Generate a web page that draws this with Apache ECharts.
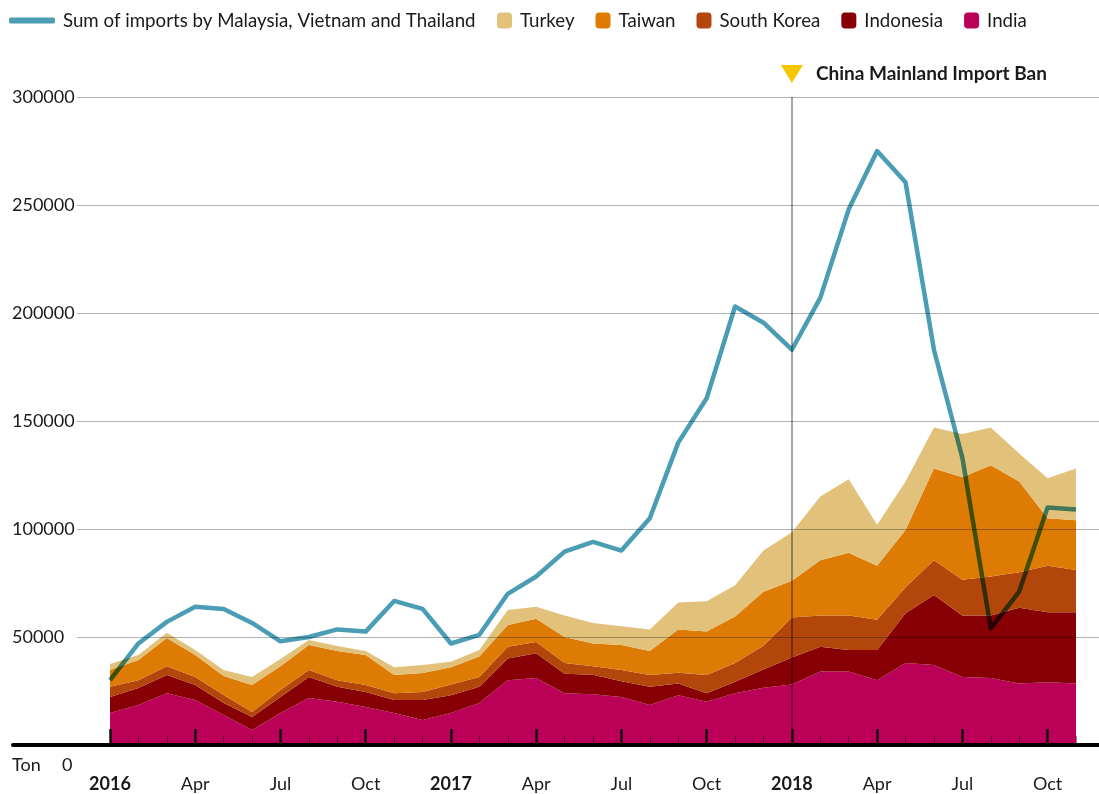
<!DOCTYPE html>
<html>
<head>
<meta charset="utf-8" />
<script src="https://cdn.jsdelivr.net/npm/echarts@6/dist/echarts.min.js"></script>
<style>
  html, body { margin: 0; padding: 0; background: #fff; }
  #main { width: 1099px; height: 794px; }
</style>
</head>
<body>
<div id="main"></div>
<script>
// months Jan 2016 .. Nov 2018
var months = [
  'Jan 2016', 'Feb 2016', 'Mar 2016', 'Apr 2016', 'May 2016', 'Jun 2016',
  'Jul 2016', 'Aug 2016', 'Sep 2016', 'Oct 2016', 'Nov 2016', 'Dec 2016',
  'Jan 2017', 'Feb 2017', 'Mar 2017', 'Apr 2017', 'May 2017', 'Jun 2017',
  'Jul 2017', 'Aug 2017', 'Sep 2017', 'Oct 2017', 'Nov 2017', 'Dec 2017',
  'Jan 2018', 'Feb 2018', 'Mar 2018', 'Apr 2018', 'May 2018', 'Jun 2018',
  'Jul 2018', 'Aug 2018', 'Sep 2018', 'Oct 2018', 'Nov 2018'
];

// tons
var sumMVT = [30000, 47000, 57000, 64000, 63000, 56500, 48000, 50000, 53500, 52500, 66700, 63000,
  47000, 51000, 70000, 78000, 89500, 94000, 90000, 105000, 140000, 160500, 203000, 195500,
  183000, 207000, 248000, 275000, 260500, 183000, 133000, 54000, 71000, 110000, 109000];

var india = [14800, 18500, 24000, 20800, 13900, 7000, 14800, 21800, 20000, 17600, 14800, 11600,
  14800, 19500, 30000, 31000, 24000, 23500, 22200, 18500, 23000, 20000, 24000, 26500,
  28000, 34000, 34000, 30000, 38000, 37000, 31500, 31000, 28500, 29000, 28500];

var indonesia = [7400, 7900, 8400, 7000, 5500, 6000, 7400, 9700, 7000, 6900, 6000, 9200,
  8200, 7500, 10000, 11500, 9000, 9000, 7300, 8500, 5500, 4000, 5300, 8500,
  12500, 11500, 10000, 14000, 23000, 32500, 28500, 29000, 35000, 32500, 33000];

var southKorea = [4800, 3600, 4100, 3700, 3700, 2300, 3300, 3200, 3000, 3300, 3200, 3700,
  5000, 4500, 5500, 5200, 5000, 4000, 5200, 5400, 4900, 8400, 8700, 11000,
  18500, 14500, 16000, 14000, 12000, 16000, 16500, 18000, 16500, 21500, 19500];

var taiwan = [7700, 9400, 13000, 10200, 8900, 12500, 11000, 11600, 13500, 13900, 8400, 8800,
  8000, 9500, 10000, 10800, 12000, 10500, 11600, 11100, 20100, 20100, 21500, 25000,
  17000, 25500, 29000, 25000, 26500, 42500, 47500, 51500, 42000, 22000, 23000];

var turkey = [2800, 2300, 2500, 2300, 2700, 3700, 3300, 2300, 2300, 1800, 3600, 3700,
  2500, 3000, 7000, 5500, 10000, 9500, 8700, 10000, 12500, 14000, 14500, 19000,
  22500, 29500, 34000, 19000, 22500, 19000, 20000, 17500, 13000, 18500, 24000];

var lineName = 'Sum of imports by Malaysia, Vietnam and Thailand';
var banMonth = 'Jan 2018';

var font = 'Lato';
var ink = '#1a1a1a';

var chart = echarts.init(document.getElementById('main'));

function area(name, data, color, extra) {
  var s = {
    name: name,
    type: 'line',
    xAxisIndex: 0,
    yAxisIndex: 0,
    stack: 'imports',
    data: data,
    symbol: 'none',
    lineStyle: { width: 0 },
    itemStyle: { color: color },
    areaStyle: { color: color, opacity: 1 },
    z: 2
  };
  for (var k in extra) s[k] = extra[k];
  return s;
}

var option = {
  animation: false,
  textStyle: { fontFamily: font, color: ink },
  legend: [{
    left: 9, top: 11, padding: 0,
    itemWidth: 46, itemHeight: 6, icon: 'roundRect',
    data: [lineName],
    textStyle: { fontSize: 18.7, color: ink, fontFamily: font, padding: [0, 0, 0, 3] }
  }, {
    left: 497, top: 11, padding: 0,
    itemWidth: 15, itemHeight: 16, icon: 'roundRect', itemGap: 21,
    data: ['Turkey', 'Taiwan', 'South Korea', 'Indonesia', 'India'],
    textStyle: { fontSize: 18.7, color: ink, fontFamily: font, padding: [0, 0, 0, 3] }
  }],
  grid: [
    { left: 110, right: 23, top: 97, bottom: 49 },   // data
    { left: 77, right: 0, top: 97, bottom: 49 },     // gridlines + y labels
    { left: 13, right: 0, top: 97, bottom: 49 }      // baseline
  ],
  xAxis: [{
    type: 'category', gridIndex: 0, position: 'bottom', data: months, boundaryGap: false, z: 5,
    axisLine: { show: false },
    axisTick: { show: true, inside: true, interval: 2, length: 16, lineStyle: { color: '#111', width: 2.5 } },
    axisLabel: {
      interval: 2, margin: 30, fontSize: 18, color: ink, fontFamily: font,
      formatter: function (v) {
        var p = v.split(' ');
        return p[0] === 'Jan' ? '{y|' + p[1] + '}' : p[0];
      },
      rich: { y: { fontWeight: 'bold', fontSize: 18, color: ink, fontFamily: font } }
    },
    splitLine: { show: false }
  }, {
    type: 'category', gridIndex: 0, position: 'bottom', data: months, boundaryGap: false, z: 4,
    axisLine: { show: false },
    axisTick: { show: true, inside: true, interval: 0, length: 9, lineStyle: { color: 'rgba(0,0,0,0.45)', width: 1 } },
    axisLabel: { show: false },
    splitLine: { show: false }
  }, {
    type: 'value', gridIndex: 1, min: 0, max: 1, show: false
  }, {
    type: 'value', gridIndex: 2, position: 'bottom', min: 0, max: 1, z: 6,
    axisLine: { show: true, lineStyle: { color: '#000', width: 4 } },
    axisTick: { show: false }, axisLabel: { show: false }, splitLine: { show: false }
  }],
  yAxis: [{
    type: 'value', gridIndex: 0, min: 0, max: 300000, interval: 50000, show: false
  }, {
    type: 'value', gridIndex: 1, min: 0, max: 300000, interval: 50000, z: 3,
    axisLine: { show: false }, axisTick: { show: false },
    splitLine: { show: true, lineStyle: { color: 'rgba(0,0,0,0.3)', width: 1 } },
    axisLabel: {
      align: 'left', margin: 65, fontSize: 18, color: ink, fontFamily: font,
      formatter: function (v) {
        if (v === 0) return '{u|Ton}{z|0}';
        return String(v);
      },
      rich: {
        u: { width: 50, padding: [40, 0, 0, 0], fontSize: 18, color: ink, fontFamily: font },
        z: { padding: [40, 0, 0, 0], fontSize: 18, color: ink, fontFamily: font }
      }
    }
  }, {
    type: 'value', gridIndex: 2, min: 0, max: 1, show: false
  }],
  series: [
    area('India', india, '#bb0058'),
    area('Indonesia', indonesia, '#870005'),
    area('South Korea', southKorea, '#b3470b'),
    area('Taiwan', taiwan, '#de7b05'),
    area('Turkey', turkey, '#e2c27b', {
      markLine: {
        silent: true, symbol: 'none',
        lineStyle: { color: 'rgba(0,0,0,0.35)', width: 2, type: 'solid' },
        label: { show: false },
        data: [{ xAxis: banMonth }]
      },
      markPoint: {
        silent: true,
        symbol: 'triangle', symbolRotate: 180, symbolSize: [22, 18], symbolOffset: [0, -23],
        itemStyle: { color: '#f6c600' },
        label: {
          show: true, position: 'right', distance: 13,
          fontSize: 19, fontWeight: 'bold', color: ink, fontFamily: font,
          formatter: 'China Mainland Import Ban'
        },
        data: [{ coord: [banMonth, 300000] }]
      }
    }),
    {
      name: lineName,
      type: 'line',
      xAxisIndex: 0,
      yAxisIndex: 0,
      data: sumMVT,
      symbol: 'none',
      blendMode: 'multiply',
      itemStyle: { color: '#4a9db4' },
      lineStyle: { color: '#4a9db4', width: 4.5, join: 'round' },
      z: 4
    }
  ]
};

chart.setOption(option);
</script>
</body>
</html>
